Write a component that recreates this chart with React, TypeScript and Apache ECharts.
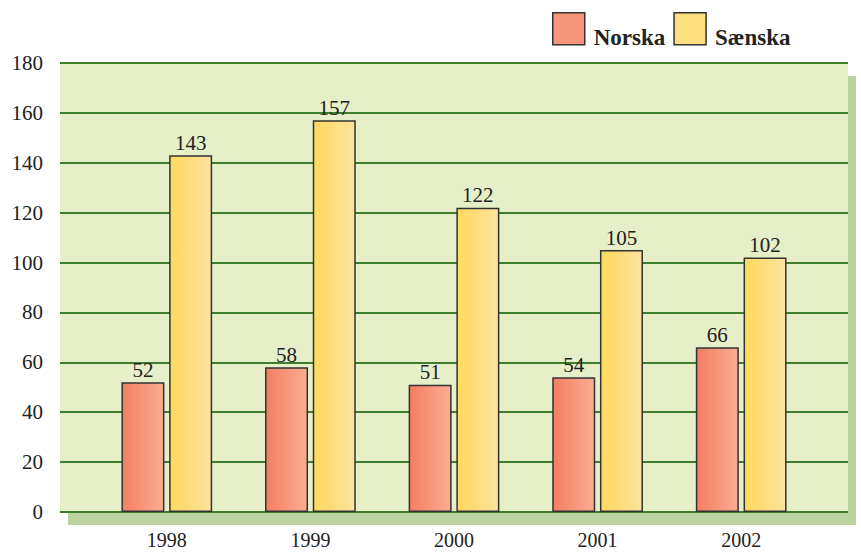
import React, { useEffect, useRef } from "react";
import * as echarts from "echarts";

const categories = ["1998", "1999", "2000", "2001", "2002"];
const norska = [52, 58, 51, 54, 66];
const saenska = [143, 157, 122, 105, 102];
const yTicks = { min: 0, max: 180, interval: 20 };

const FONT = "'Liberation Serif', 'Times New Roman', serif";

export default function App() {
  const ref = useRef<HTMLDivElement>(null);
  useEffect(() => {
    if (!ref.current) return;
    const chart = echarts.init(ref.current, undefined, { renderer: "svg" });
    const norskaFill = new echarts.graphic.LinearGradient(0, 0, 1, 0, [
      { offset: 0, color: "#f47e62" },
      { offset: 1, color: "#f9ad92" },
    ]);
    const saenskaFill = new echarts.graphic.LinearGradient(0, 0, 1, 0, [
      { offset: 0, color: "#ffd95c" },
      { offset: 1, color: "#fde3a0" },
    ]);
    chart.setOption({
      animation: false,
      textStyle: { fontFamily: FONT },
      graphic: [
        { type: "rect", z: -100, shape: { x: 68, y: 76, width: 788, height: 449 }, style: { fill: "#bcd3a0" } },
        { type: "rect", z: -99, shape: { x: 60, y: 63, width: 788, height: 449 }, style: { fill: "#e6efc7" } },
      ],
      legend: {
        left: 552,
        top: 12,
        padding: 0,
        icon: "rect",
        itemWidth: 32,
        itemHeight: 32,
        itemGap: 8,
        formatter: "{a|{name}}",
        textStyle: {
          rich: {
            a: { fontFamily: FONT, fontSize: 23, fontWeight: "bold", color: "#222", padding: [18, 0, 0, 4] },
          },
        },
        data: [
          { name: "Norska", itemStyle: { color: "#f6957a", borderColor: "#333", borderWidth: 1.5 } },
          { name: "Sænska", itemStyle: { color: "#fedf7e", borderColor: "#333", borderWidth: 1.5 } },
        ],
      },
      grid: [
        { left: 60, top: 63, width: 788, height: 449, outerBoundsMode: "none", containLabel: false },
        { left: 95, top: 63, width: 718, height: 449, outerBoundsMode: "none", containLabel: false },
      ],
      xAxis: [
        { type: "value", gridIndex: 0, show: false, min: 0, max: 1 },
        {
          type: "category",
          gridIndex: 1,
          data: categories,
          axisLine: { show: false },
          axisTick: { show: false },
          axisLabel: { fontFamily: FONT, fontSize: 20, color: "#222", margin: 18, lineHeight: 20 },
        },
      ],
      yAxis: [
        {
          type: "value",
          gridIndex: 0,
          ...yTicks,
          axisLine: { show: false },
          axisTick: { show: false },
          axisLabel: { fontFamily: FONT, fontSize: 21, color: "#222", margin: 17 },
          splitLine: { lineStyle: { color: "#3f7d2c", width: 2 } },
        },
        { type: "value", gridIndex: 1, ...yTicks, show: false, splitLine: { show: false } },
      ],
      series: [
        {
          name: "Norska",
          type: "bar",
          xAxisIndex: 1,
          yAxisIndex: 1,
          data: norska,
          barWidth: 43,
          barGap: "11%",
          itemStyle: { color: norskaFill, borderColor: "#333", borderWidth: 1.5 },
          label: { show: true, position: "top", distance: 2, fontFamily: FONT, fontSize: 21, color: "#222" },
        },
        {
          name: "Sænska",
          type: "bar",
          xAxisIndex: 1,
          yAxisIndex: 1,
          data: saenska,
          barWidth: 43,
          barGap: "11%",
          itemStyle: { color: saenskaFill, borderColor: "#333", borderWidth: 1.5 },
          label: { show: true, position: "top", distance: 2, fontFamily: FONT, fontSize: 21, color: "#222" },
        },
      ],
    });
    return () => chart.dispose();
  }, []);
  return <div ref={ref} style={{ position: "absolute", left: 0, top: 0, width: 861, height: 552 }} />;
}
